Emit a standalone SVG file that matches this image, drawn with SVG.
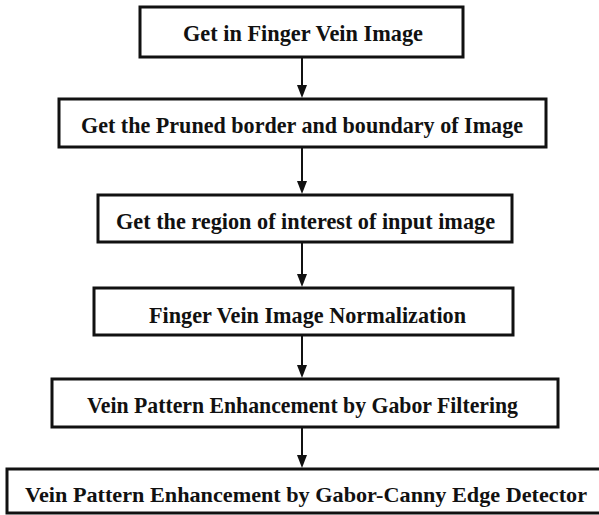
<svg xmlns="http://www.w3.org/2000/svg" width="599" height="515" viewBox="0 0 599 515">
<style>
.box{fill:#fff;stroke:#111;stroke-width:3}
.lbl{font-family:"Liberation Serif","Times New Roman",serif;font-weight:bold;font-size:23px;fill:#111}
.conn{stroke:#111;stroke-width:2;fill:none}
.head{fill:#111}
</style>
<rect width="599" height="515" fill="#fff"/>
<g id="connectors">
<line class="conn" x1="302" y1="57" x2="302" y2="86"/>
<path class="head" d="M297,85 L307,85 L302,98 Z"/>
<line class="conn" x1="302" y1="147" x2="302" y2="182"/>
<path class="head" d="M297,181 L307,181 L302,194 Z"/>
<line class="conn" x1="302" y1="242" x2="302" y2="275"/>
<path class="head" d="M297,274 L307,274 L302,287 Z"/>
<line class="conn" x1="302" y1="335" x2="302" y2="366"/>
<path class="head" d="M297,365 L307,365 L302,378 Z"/>
<line class="conn" x1="302" y1="427" x2="302" y2="456"/>
<path class="head" d="M297,455 L307,455 L302,468 Z"/>
</g>
<g id="n1">
<rect class="box" x="140" y="7" width="323" height="50"/>
<text class="lbl" x="183" y="41" textLength="240" lengthAdjust="spacingAndGlyphs">Get in Finger Vein Image</text>
</g>
<g id="n2">
<rect class="box" x="59" y="99" width="487" height="48"/>
<text class="lbl" x="81" y="133" textLength="442" lengthAdjust="spacingAndGlyphs">Get the Pruned border and boundary of Image</text>
</g>
<g id="n3">
<rect class="box" x="98" y="195" width="414" height="47"/>
<text class="lbl" x="116" y="229" textLength="379" lengthAdjust="spacingAndGlyphs">Get the region of interest of input image</text>
</g>
<g id="n4">
<rect class="box" x="94" y="288" width="419" height="47"/>
<text class="lbl" x="149" y="323" textLength="317" lengthAdjust="spacingAndGlyphs">Finger Vein Image Normalization</text>
</g>
<g id="n5">
<rect class="box" x="52" y="379" width="506" height="48"/>
<text class="lbl" x="87" y="413" textLength="431" lengthAdjust="spacingAndGlyphs">Vein Pattern Enhancement by Gabor Filtering</text>
</g>
<g id="n6">
<rect class="box" x="7" y="469" width="600" height="44"/>
<text class="lbl" x="25" y="502" font-size="22" style="font-size:22px" textLength="562" lengthAdjust="spacingAndGlyphs">Vein Pattern Enhancement by Gabor-Canny Edge Detector</text>
</g>
</svg>
